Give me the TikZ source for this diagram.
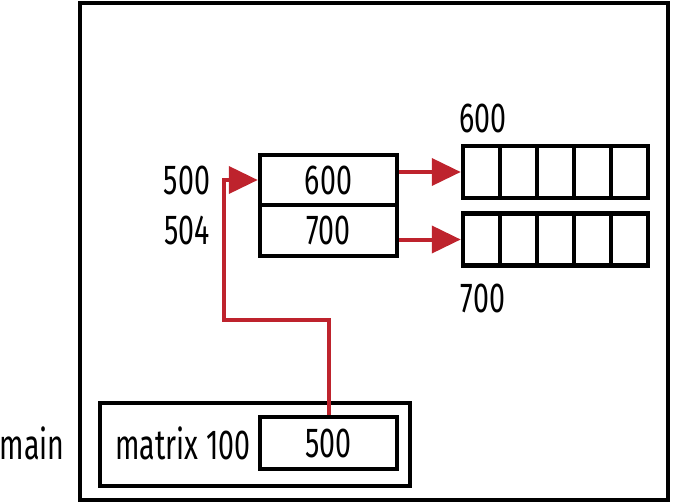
\documentclass[tikz,border=0pt]{standalone}
\usepackage{fontspec}
\setmainfont[FakeStretch=0.68]{Fira Sans}
\usetikzlibrary{arrows.meta}
\definecolor{ptrred}{RGB}{190,35,45}
\begin{document}
\begin{tikzpicture}[x=1pt, y=-1pt,
    every node/.style={font=\fontsize{42}{46}\selectfont, inner sep=0pt},
    frame/.style={draw, line width=4.5pt},
    cell/.style={draw, line width=4.5pt, minimum width=37pt, minimum height=52pt},
    ptr/.style={draw=ptrred, line width=4pt, -{Triangle[length=29pt, width=27pt]}}]
    \useasboundingbox (0,0) rectangle (673,503);
    % Rahmen und Stack
    \node[frame, minimum width=588pt, minimum height=497pt] (heap) at (374,251.5) {};
    \node[frame, minimum width=310pt, minimum height=83pt]  (main) at (255,444.5) {};
    \node[frame, minimum width=137pt, minimum height=52pt]  (v500) at (328.5,443) {500};
    \node[anchor=center] (mlabel) at (32,443)  {main};
    \node[anchor=center] (mvar)   at (183,443) {matrix 100};
    % Zeigerfeld
    \node[frame, minimum width=137pt, minimum height=50pt] (p600) at (328.5,180) {600};
    \node[frame, minimum width=137pt, minimum height=51pt] (p700) at (328.5,230.5) {700};
    \node (a500) at (187,180) {500};
    \node (a504) at (187,230) {504};
    % Zeilen
    \foreach \i in {0,...,4} {
        \node[cell] (r\i) at (481.5+37*\i,172) {};
        \node[cell] (s\i) at (481.5+37*\i,239.5) {};
    }
    \node (l600) at (483,118) {600};
    \node (l700) at (483,298) {700};
    % Zeiger
    \coordinate (bend) at (224,320);
    \draw[ptr] (v500.north) |- (bend) |- (p600.west);
    \draw[ptr] (p600.east |- r0.west) -- (r0.west);
    \draw[ptr] (p700.east |- s0.west) -- (s0.west);
\end{tikzpicture}
\end{document}
